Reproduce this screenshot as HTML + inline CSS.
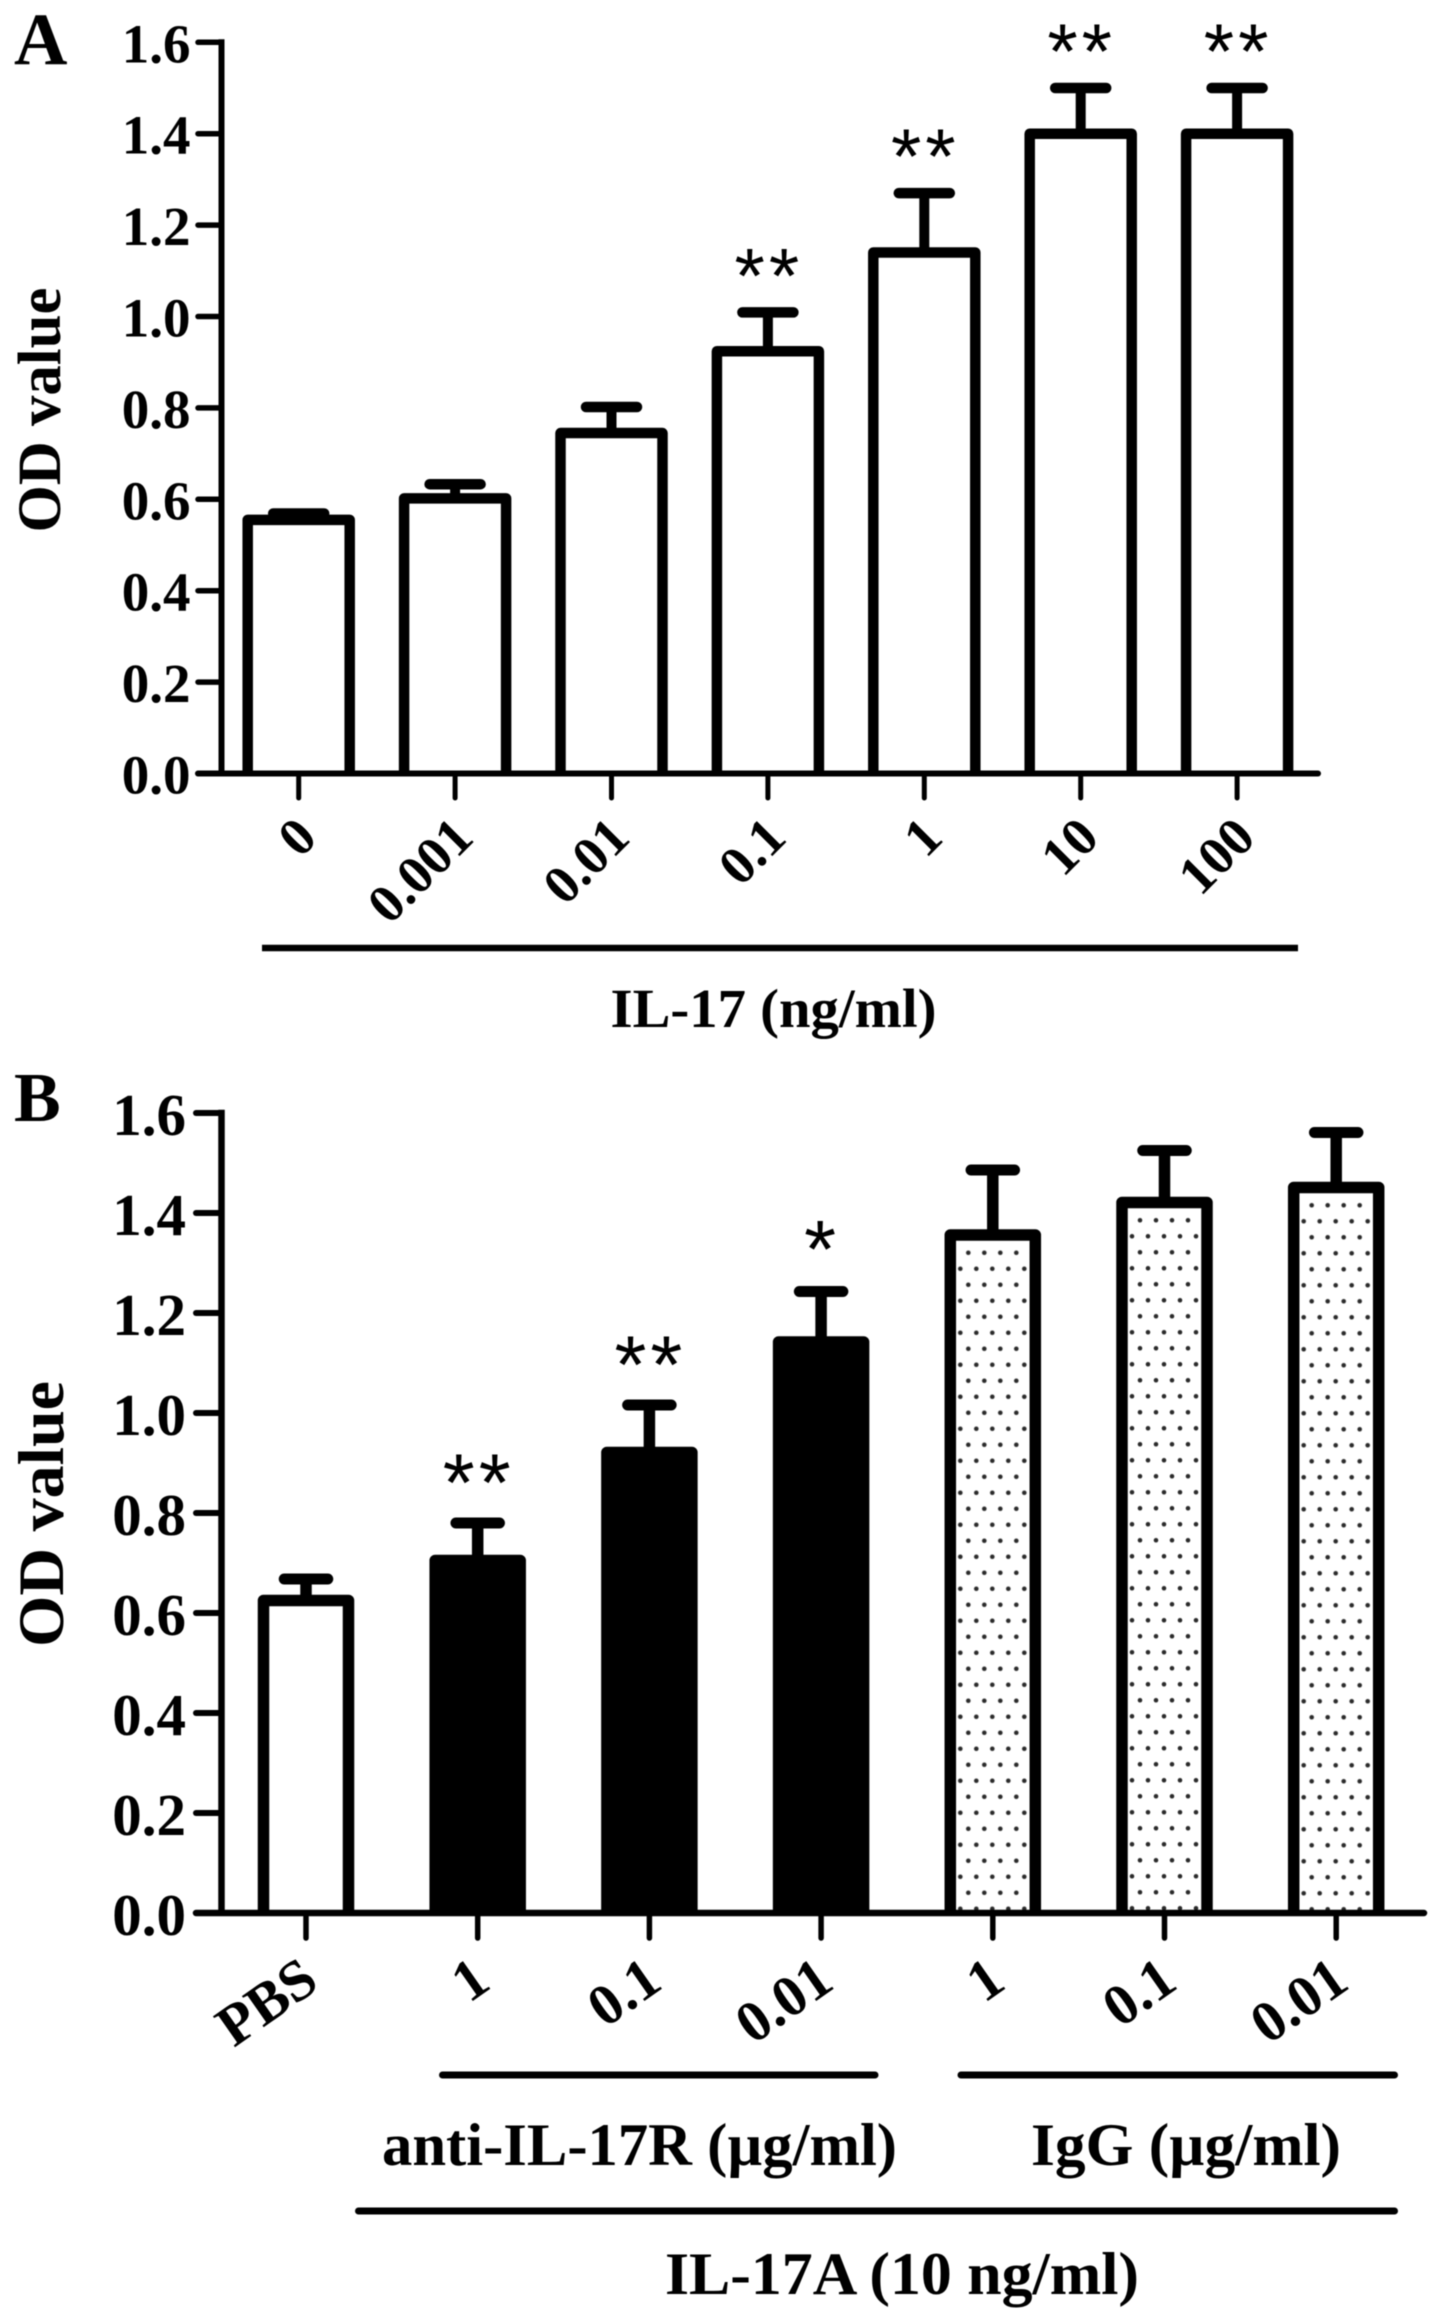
<!DOCTYPE html>
<html lang="en">
<head>
<meta charset="utf-8">
<title>OD value bar charts</title>
<style>
html,body{margin:0;padding:0;background:#fff;}
#figure{display:block;width:1441px;height:2319px;filter:blur(0.6px);}
text{font-family:"Liberation Serif",serif;font-weight:bold;fill:#000;}
.star{font-family:"Liberation Sans",sans-serif;font-weight:normal;letter-spacing:4px;}
</style>
</head>
<body>
<svg id="figure" xmlns="http://www.w3.org/2000/svg" width="1441" height="2319" viewBox="0 0 1441 2319">
  <rect width="1441" height="2319" fill="#fff"/>
  <defs id="patterns"></defs>

  <g id="panel-a">
    <text x="14" y="64" font-size="74">A</text>
    <text transform="translate(60 410) rotate(-90)" text-anchor="middle" font-size="61" textLength="245" lengthAdjust="spacingAndGlyphs">OD value</text>
    <line x1="262" y1="948" x2="1298" y2="948" stroke="#000" stroke-width="6.5"/>
    <text x="610.5" y="1027" font-size="55" textLength="326" lengthAdjust="spacingAndGlyphs">IL-17 (ng/ml)</text>
  </g>

  <g id="panel-b">
    <text x="14" y="1121" font-size="70">B</text>
    <text transform="translate(63 1514) rotate(-90)" text-anchor="middle" font-size="65" textLength="266" lengthAdjust="spacingAndGlyphs">OD value</text>
    <line x1="442.5" y1="2075" x2="875" y2="2075" stroke="#000" stroke-width="7" stroke-linecap="round"/>
    <line x1="961" y1="2075" x2="1394.5" y2="2075" stroke="#000" stroke-width="7" stroke-linecap="round"/>
    <line x1="358.5" y1="2211" x2="1394.5" y2="2211" stroke="#000" stroke-width="7" stroke-linecap="round"/>
    <text x="382" y="2165" font-size="60" textLength="515" lengthAdjust="spacingAndGlyphs">anti-IL-17R (µg/ml)</text>
    <text x="1031" y="2165" font-size="60" textLength="310" lengthAdjust="spacingAndGlyphs">IgG (µg/ml)</text>
    <text x="665" y="2294" font-size="60" textLength="474" lengthAdjust="spacingAndGlyphs">IL-17A (10 ng/ml)</text>
  </g>
</svg>

<script>
var yTickLabels = ["0.0", "0.2", "0.4", "0.6", "0.8", "1.0", "1.2", "1.4", "1.6"];

var aCategories = ["0", "0.001", "0.01", "0.1", "1", "10", "100"];
var aValues = [0.555, 0.602, 0.745, 0.924, 1.14, 1.40, 1.40];
var aErrors = [0.014, 0.031, 0.057, 0.085, 0.13, 0.10, 0.10];
var aSignificance = ["", "", "", "**", "**", "**", "**"];
var aFills = ["open", "open", "open", "open", "open", "open", "open"];

var bCategories = ["PBS", "1", "0.1", "0.01", "1", "0.1", "0.01"];
var bValues = [0.625, 0.705, 0.921, 1.142, 1.356, 1.421, 1.451];
var bErrors = [0.043, 0.075, 0.095, 0.101, 0.13, 0.104, 0.11];
var bSignificance = ["", "**", "**", "*", "", "", ""];
var bFills = ["open", "solid", "solid", "solid", "dotted", "dotted", "dotted"];

var SVG_NS = "http://www.w3.org/2000/svg";

function mk(parent, tag, attrs, text) {
  var el = document.createElementNS(SVG_NS, tag);
  for (var k in attrs) { el.setAttribute(k, attrs[k]); }
  if (text !== undefined) { el.textContent = text; }
  parent.appendChild(el);
  return el;
}

function drawPanel(root, key, g, categories, values, errors, significance, fills) {
  var yPos = function (v) { return g.y0 - v * g.unit; };
  var xPos = function (i) { return g.x0 + i * g.step; };
  var defs = document.getElementById("patterns");
  var yMax = parseFloat(yTickLabels[yTickLabels.length - 1]);
  var el;

  // bars, whiskers and significance marks
  values.forEach(function (v, i) {
    var c = xPos(i), top = yPos(v), capY = yPos(v + errors[i]);
    var half = g.barWidth / 2;
    var fill = "#fff";
    if (fills[i] === "solid") { fill = "#000"; }
    if (fills[i] === "dotted") {
      var pid = key + "-dots-" + i;
      var pat = mk(defs, "pattern", {
        id: pid, patternUnits: "userSpaceOnUse",
        x: c - 36.5, y: top + g.stroke / 2 + 12 - 8, width: 16, height: 32
      });
      mk(pat, "rect", { width: 16, height: 32, fill: "#fff" });
      mk(pat, "circle", { cx: 12, cy: 8, r: 2.3, fill: "#2a2a2a" });
      mk(pat, "circle", { cx: 4, cy: 24, r: 2.3, fill: "#2a2a2a" });
      fill = "url(#" + pid + ")";
    }
    el = mk(root, "line", { x1: c, x2: c, y1: top, y2: capY, stroke: "#000", "stroke-width": g.whisker });
    
    
    el = mk(root, "line", { x1: c - g.cap / 2, x2: c + g.cap / 2, y1: capY, y2: capY, stroke: "#000", "stroke-width": g.capThick, "stroke-linecap": "round" });
    
    
    el = mk(root, "path", {
      d: "M" + (c - half) + " " + g.y0 + "V" + top + "H" + (c + half) + "V" + g.y0,
      fill: fill, stroke: "#000", "stroke-width": g.stroke, "stroke-linejoin": "round"
    });
    
    
    if (significance[i]) {
      var off = significance[i].length === 1 ? g.starOffset1 : g.starOffset2;
      el = mk(root, "text", { x: c + 1, y: capY - off, "text-anchor": "middle", "font-size": g.starSize, "class": "star" }, significance[i]);
      
      
    }
  });

  // y axis
  el = mk(root, "line", { x1: g.axisX, x2: g.axisX, y1: yPos(yMax) - g.axisW / 2, y2: g.y0, stroke: "#000", "stroke-width": g.axisW });
  
  
  yTickLabels.forEach(function (t) {
    var y = yPos(parseFloat(t));
    el = mk(root, "line", { x1: g.tickLeft, x2: g.axisX, y1: y, y2: y, stroke: "#000", "stroke-width": g.axisW - 0.5, "stroke-linecap": "round" });
    
    
    el = mk(root, "text", { x: g.labelRight, y: y + g.labelDrop, "text-anchor": "end", "font-size": g.labelSize }, t);
    
    
  });

  // x axis
  el = mk(root, "line", { x1: g.tickLeft, x2: g.axisEnd, y1: g.y0, y2: g.y0, stroke: "#000", "stroke-width": g.axisW, "stroke-linecap": "round" });
  
  
  categories.forEach(function (cat, i) {
    var c = xPos(i);
    el = mk(root, "line", { x1: c, x2: c, y1: g.y0, y2: g.tickBottom, stroke: "#000", "stroke-width": g.axisW - 1, "stroke-linecap": "round" });
    
    
    el = mk(root, "text", {
      transform: "translate(" + (c + g.catDx) + " " + g.catY + ") rotate(" + g.catAngle + ")",
      "text-anchor": "end", "font-size": g.catSize
    }, cat);
    
    
  });
}

drawPanel(document.getElementById("panel-a"), "a", {
  y0: 773.5, unit: 457, x0: 298.7, step: 156.4,
  barWidth: 102, stroke: 10.5, whisker: 10, cap: 51, capThick: 10.5,
  axisX: 221.5, axisW: 6, tickLeft: 198, tickBottom: 798, axisEnd: 1318,
  labelRight: 190.5, labelDrop: 20, labelSize: 55,
  catDx: 20.5, catY: 840, catAngle: -45, catSize: 54,
  starSize: 78, starOffset1: 10, starOffset2: 10
}, aCategories, aValues, aErrors, aSignificance, aFills);

drawPanel(document.getElementById("panel-b"), "b", {
  y0: 1913, unit: 500, x0: 306, step: 171.7,
  barWidth: 85, stroke: 11.5, whisker: 11.5, cap: 43.5, capThick: 11,
  axisX: 221.5, axisW: 6.5, tickLeft: 196, tickBottom: 1938, axisEnd: 1424,
  labelRight: 186, labelDrop: 22, labelSize: 59,
  catDx: 15, catY: 1987, catAngle: -35, catSize: 58,
  starSize: 82, starOffset1: 14, starOffset2: 12
}, bCategories, bValues, bErrors, bSignificance, bFills);
</script>
</body>
</html>
